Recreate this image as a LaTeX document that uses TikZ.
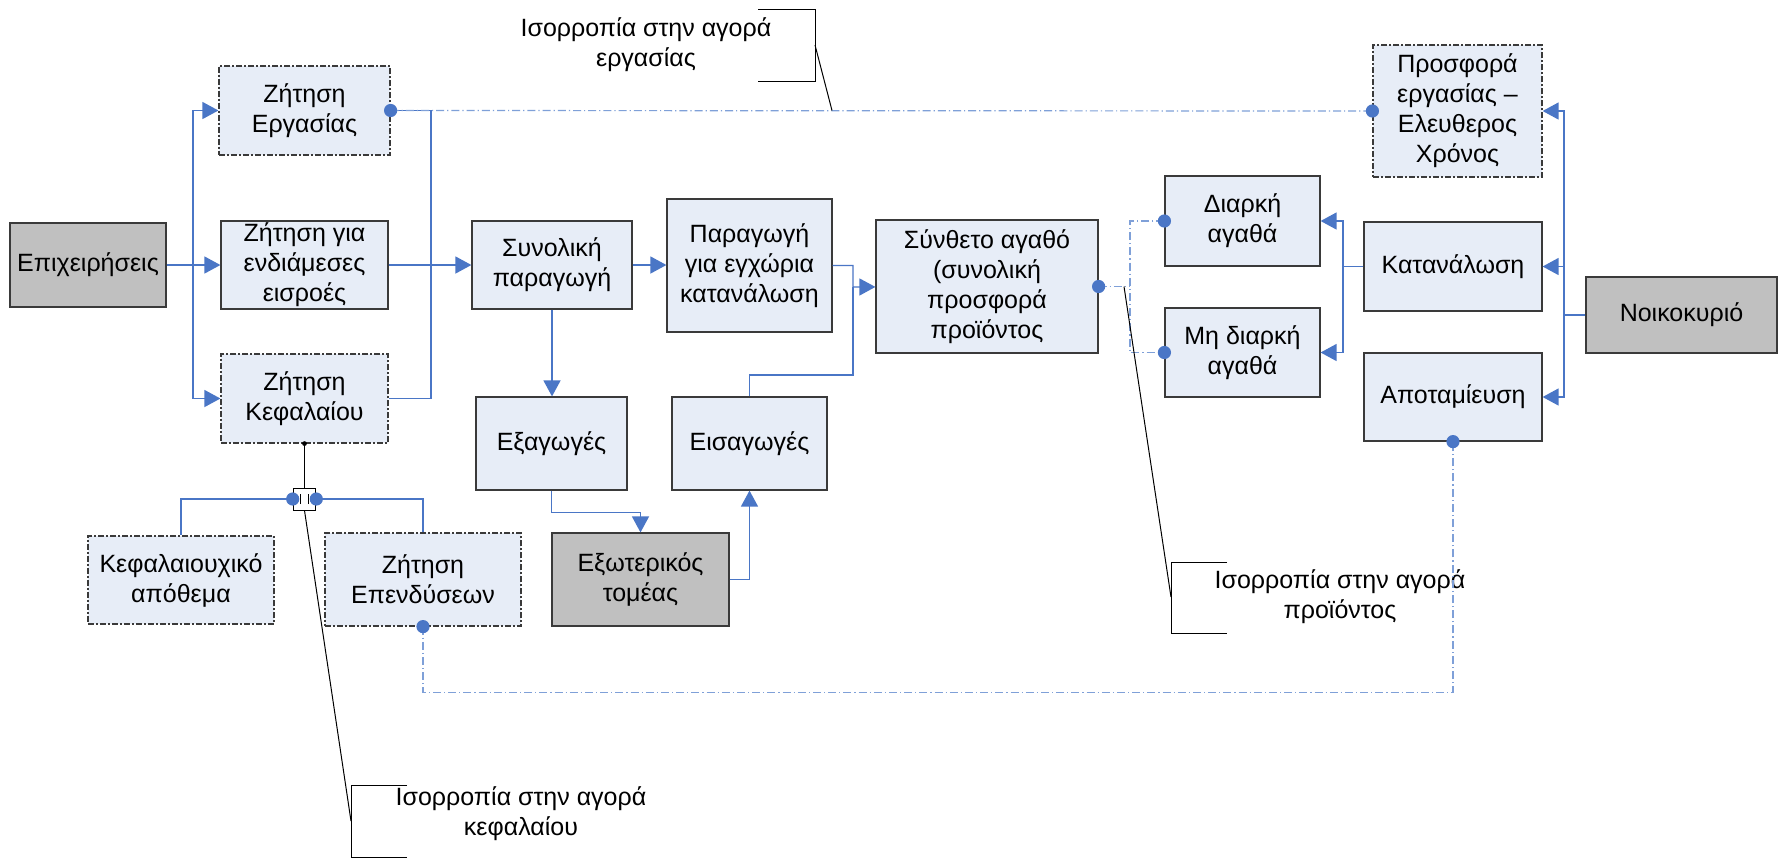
\documentclass[tikz,border=0pt]{standalone}
\usepackage{fontspec}
\setmainfont{Liberation Sans}
\usetikzlibrary{arrows.meta, calc}
\definecolor{BoxFill}{HTML}{E7EDF7}
\definecolor{GreyFill}{HTML}{C0C0C0}
\definecolor{LinkBlue}{HTML}{4A76C6}
\definecolor{EqBlue}{HTML}{7FA0D8}
\definecolor{EdgeDark}{HTML}{3A3A3A}

\begin{document}
\begin{tikzpicture}[x=0.5pt, y=-0.5pt,
    every node/.style={font=\fontsize{12.5}{15}\selectfont, align=center, inner sep=0pt},
    box/.style={draw=EdgeDark, fill=BoxFill, line width=0.6pt},
    dbox/.style={box, dash pattern=on 3pt off 1.2pt on 0.6pt off 1.2pt},
    gbox/.style={box, fill=GreyFill},
    link/.style={draw=LinkBlue, line width=0.7pt},
    flow/.style={link, -{Triangle[length=8pt, width=8.5pt]}},
    eqline/.style={draw=EqBlue, line width=0.6pt, dash pattern=on 4pt off 1.5pt on 0.6pt off 1.5pt},
    callout/.style={draw=black, line width=0.5pt}]
                \path[use as bounding box, fill=white] (0,0) rectangle (1778,858);

                % Firms
                \node[gbox, minimum width=78pt, minimum height=42pt] (epi) at (88,265) {Επιχειρήσεις};
                \node[dbox, minimum width=85.5pt, minimum height=44.5pt] (zerg) at (304.5,110.5) {Ζήτηση\\Εργασίας};
                \node[box, minimum width=83.5pt, minimum height=44pt] (zend) at (304.5,265) {Ζήτηση για\\ενδιάμεσες\\εισροές};
                \node[dbox, minimum width=83.5pt, minimum height=44.5pt] (zkef) at (304.5,398.5) {Ζήτηση\\Κεφαλαίου};
                \node[dbox, minimum width=93pt, minimum height=44pt] (kap) at (181,580) {Κεφαλαιουχικό\\απόθεμα};
                \node[dbox, minimum width=98pt, minimum height=46.5pt] (zep) at (423,579.5) {Ζήτηση\\Επενδύσεων};
                \node[draw=black, fill=white, line width=0.5pt, minimum width=11.3pt, minimum height=11pt] (cap) at (304.5,499) {};

                % Production and foreign sector
                \node[box, minimum width=80pt, minimum height=44pt] (syn) at (552,265) {Συνολική\\παραγωγή};
                \node[box, minimum width=82.5pt, minimum height=66.5pt] (paeg) at (749.5,265.5) {Παραγωγή\\για εγχώρια\\κατανάλωση};
                \node[box, minimum width=111pt, minimum height=66.5pt] (synth) at (987,286.5) {Σύνθετο αγαθό\\(συνολική\\προσφορά\\προϊόντος};
                \node[box, minimum width=75.5pt, minimum height=46.5pt] (exag) at (551.5,443.5) {Εξαγωγές};
                \node[box, minimum width=77.5pt, minimum height=46.5pt] (eisag) at (749.5,443.5) {Εισαγωγές};
                \node[gbox, minimum width=88.5pt, minimum height=46.5pt] (exot) at (640.5,579.5) {Εξωτερικός\\τομέας};

                % Households
                \node[dbox, minimum width=84.5pt, minimum height=66pt] (prosf) at (1457.5,111) {Προσφορά\\εργασίας –\\Ελευθερος\\Χρόνος};
                \node[box, minimum width=77.5pt, minimum height=45pt] (diark) at (1242.5,221) {Διαρκή\\αγαθά};
                \node[box, minimum width=77.5pt, minimum height=44.5pt] (mdiark) at (1242.5,352.5) {Μη διαρκή\\αγαθά};
                \node[box, minimum width=89pt, minimum height=44.5pt] (katan) at (1453,266.5) {Κατανάλωση};
                \node[box, minimum width=89pt, minimum height=44pt] (apot) at (1453,397) {Αποταμίευση};
                \node[gbox, minimum width=95.5pt, minimum height=38pt] (noik) at (1681.5,315) {Νοικοκυριό};

                % Callout texts
                \node (eqlab) at (646,45) {Ισορροπία στην αγορά\\εργασίας};
                \node (eqprod) at (1340,597) {Ισορροπία στην αγορά\\προϊόντος};
                \node (eqcap) at (521,814) {Ισορροπία στην αγορά\\κεφαλαίου};

                \coordinate (jl) at (193,265);
                \coordinate (jr) at (431,265);
                \coordinate (jp) at (853,287);
                \coordinate (ji) at (853,375);
                \coordinate (jn) at (1564,315);
                \coordinate (jk) at (1343,266.5);
                \coordinate (js) at (1130,286.5);

                % Arrows
                \draw[flow] (epi) -- (zend);
                \draw[flow] (jl) |- (zerg);
                \draw[flow] (jl) |- (zkef);
                \draw[link] (zerg.east) -| (jr);
                \draw[link] (zkef.east) -| (jr);
                \draw[flow] (zend) -- (syn);
                \draw[flow] (syn) -- (syn -| paeg.west);
                \draw[flow] (paeg.east) -| (jp) -- (synth);
                \draw[link] (eisag.north) |- (ji) -- (jp);
                \draw[flow] (syn.south) -- (syn.south |- exag.north);
                \draw[flow] (exag.south) -- ++(0,22) -| (exot.north);
                \draw[flow] (exot.east) -| (eisag.south);
                \draw[link] (noik) -- (jn);
                \draw[flow] (jn) |- (prosf);
                \draw[flow] (jn) |- (katan);
                \draw[flow] (jn) |- (apot);
                \draw[link] (katan) -- (jk);
                \draw[flow] (jk) |- (diark);
                \draw[flow] (jk) |- (mdiark);
                \draw[link] (cap.west) -| (kap.north);
                \draw[link] (cap.east) -| (zep.north);
                \draw[callout] (zkef.south) -- (cap.north);
                \draw[callout] ($(cap.center)+(-2pt,-2.5pt)$) -- ++(0,5pt);
                \draw[callout] ($(cap.center)+(2pt,-2.5pt)$) -- ++(0,5pt);

                % Equilibrium links
                \draw[eqline] (zerg.east) -- (prosf.west);
                \draw[eqline] (synth.east) -- (js);
                \draw[eqline] (diark.west) -| (js) |- (mdiark.west);
                \draw[eqline] (zep.south) -- ++(0,66) -| (apot.south);
                \foreach \p in {zerg.east, prosf.west, synth.east, diark.west, mdiark.west, zep.south, apot.south, cap.west, cap.east}
                    \fill[LinkBlue] (\p) circle (3.3pt);
                \fill[black] (zkef.south) circle (1.2pt);

                % Callout brackets
                \draw[callout] (758,9) -- (815,9) -- (815,81) -- (758,81);
                \draw[callout] (815,45) -- (832,110.5);
                \draw[callout] (1227,562) -- (1171,562) -- (1171,633) -- (1227,633);
                \draw[callout] (1124,286.5) -- (1171,597);
                \draw[callout] (407,785) -- (351,785) -- (351,857) -- (407,857);
                \draw[callout] (cap.south) -- (351,821);
            \end{tikzpicture}
\end{document}
